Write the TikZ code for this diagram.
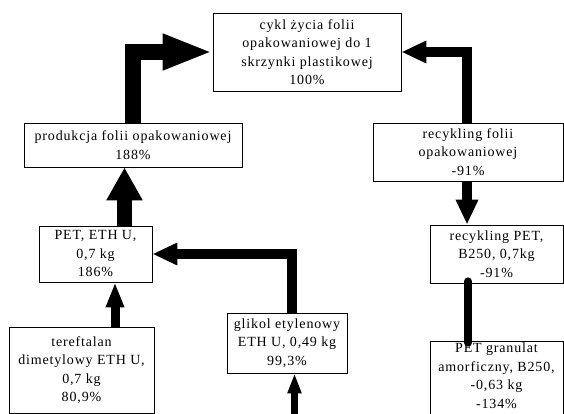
\documentclass[tikz,border=0pt]{standalone}
\usepackage{fontspec}
\setmainfont{Liberation Serif}[LetterSpace=6]
\usetikzlibrary{arrows.meta,calc}
\tikzset{
  box/.style={draw, line width=0.8pt, inner sep=0pt, align=center,
    font=\fontsize{14}{18.5}\selectfont},
  flowA/.style={line width=16.5pt, -{Triangle[length=50pt,width=33pt]}},
  flowB/.style={line width=15pt, -{Triangle[length=33pt,width=34pt]}},
  flowC/.style={line width=10pt, -{Triangle[length=25pt,width=21pt]}},
  flowD/.style={line width=9pt, -{Triangle[length=25pt,width=17pt]}},
  flowE/.style={line width=6.5pt, -{Triangle[length=20pt,width=13pt]}},
  link/.style={line width=8pt, line cap=round}
}
\begin{document}
\begin{tikzpicture}[x=1pt,y=-1pt]
\useasboundingbox (0,0) rectangle (564,414);
\clip (0,0) rectangle (564,414);
\node[box, minimum width=188pt, minimum height=78pt] (top) at (307,52)
  {cykl życia folii\\opakowaniowej do 1\\skrzynki plastikowej\\100\%};
\node[box, minimum width=218pt, minimum height=44pt] (prod) at (133,145)
  {produkcja folii opakowaniowej\\188\%};
\node[box, minimum width=113pt, minimum height=56pt] (pet) at (95.5,254)
  {PET, ETH U,\\0,7 kg\\186\%};
\node[box, minimum width=145pt, minimum height=86pt] (teref) at (81.5,370)
  {tereftalan\\dimetylowy ETH U,\\0,7 kg\\80,9\%};
\node[box, minimum width=120pt, minimum height=60pt] (glik) at (287,343)
  {glikol etylenowy\\ETH U, 0,49 kg\\99,3\%};
\node[box, minimum width=190pt, minimum height=58pt] (rf) at (468,152)
  {recykling folii\\opakowaniowej\\-91\%};
\node[box, minimum width=133pt, minimum height=58pt] (rpet) at (496.5,254)
  {recykling PET,\\B250, 0,7kg\\-91\%};
\node[box, minimum width=133pt, minimum height=80pt, text depth=11pt] (gran) at (496.5,381)
  {PET granulat\\amorficzny, B250,\\-0,63 kg\\-134\%};
\coordinate (gin) at (294.5,420);
% connectors
\draw[flowA] (prod.north) |- (top.west);
\draw[flowB] ([xshift=29pt]pet.north) -- ([xshift=29pt]pet.north |- prod.south);
\draw[flowD] ([xshift=33.5pt]teref.north) -- ([xshift=33.5pt]teref.north |- pet.south);
\draw[flowC] ([xshift=5pt]glik.north) |- (pet.east);
\draw[flowE] (gin) -- (gin |- glik.south);
\draw[flowC] ([xshift=-1pt]rf.north) |- (top.east);
\draw[flowC] ([xshift=-1pt]rf.south) -- ([xshift=-1pt]rf.south |- rpet.north);
\draw[link] ([yshift=2pt]rf.south |- rpet.south) -- ([yshift=-2pt]rf.south |- gran.north);
\end{tikzpicture}
\end{document}
